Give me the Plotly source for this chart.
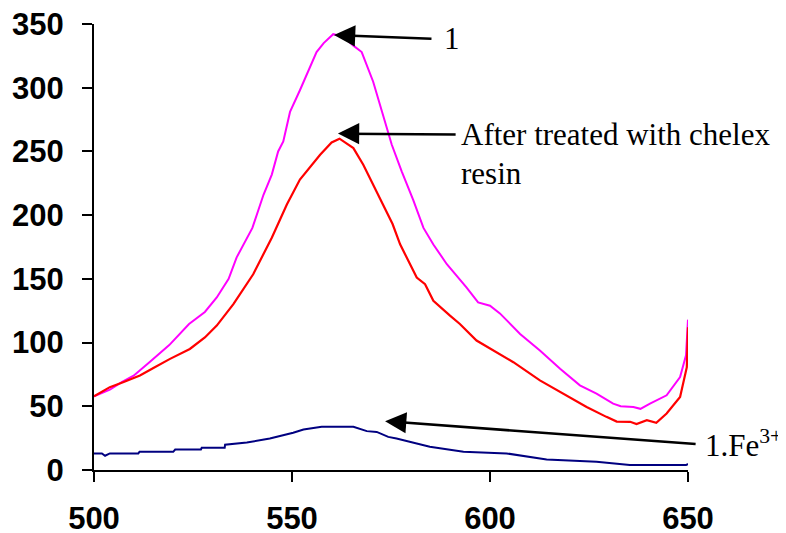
import plotly.graph_objects as go

# Wavelength (nm) and intensity for compound 1
x_1 = [500, 504, 507, 510, 514, 519, 524, 528, 531, 534, 536, 538, 540, 542.8, 544.9,
       546.5, 547.8, 549.5, 552, 556.2, 558, 560.4, 563, 565.5, 567.6, 570.5, 573, 575.2,
       577.7, 580.6, 583.2, 585.7, 589.1, 591.6, 594.1, 597, 600, 602.5, 607.6, 612.6,
       617.7, 622.7, 626.9, 631.1, 633, 636.2, 638, 640.4, 644.6, 648, 649.5, 650]
y_1 = [57.8, 63, 69, 74, 84.6, 98, 114.6, 124, 135.4, 150, 166.7, 178, 190, 216, 231.8,
       250, 257.8, 281, 298, 328, 335, 342, 340, 333, 328, 304.7, 278.7, 255.2,
       234.4, 212, 190, 177, 161.5, 152.3, 143.2, 131.5, 128.9, 122.9, 106.8, 93.75,
       79.4, 66.4, 59.9, 52.1, 50, 49.5, 48, 52.1, 58.6, 72.9, 90, 118]

# After treated with chelex resin
x_chelex = [500, 504, 507.5, 511.6, 515, 519.2, 524.2, 528, 531, 535.2, 540.2, 544.9, 548.7,
            552, 557.1, 560, 562, 565.5, 568, 570.5, 573, 575.4, 577.3, 579, 581.5, 583.6,
            585.7, 589.9, 592.4, 596.6, 601.7, 605.9, 612.6, 618.5, 624.4, 629.4, 632,
            635.4, 637, 639.6, 642, 644.6, 648, 649.7, 650]
y_chelex = [57.8, 65, 69, 74.2, 80, 87.2, 95, 104, 113.3, 130.2, 153.6, 182.3, 208.3,
            227.9, 247.4, 257, 260, 252.6, 239.6, 224, 208.3, 193, 177.1, 166.7, 151, 145.8,
            132.8, 121.1, 114.6, 101.6, 92.4, 84.6, 70.3, 59.9, 49.5, 41.7, 38,
            37.8, 36, 39.1, 37, 44.3, 57.3, 80.7, 112]

# 1.Fe3+
x_fe = [500, 502, 502.8, 504, 511.2, 511.5, 520, 520.5, 527, 527.2, 533, 533.1, 538.6,
        544.4, 550.3, 552.9, 557.5, 565.5, 568.9, 571.4, 574.3, 576.4, 584.8, 593.3,
        604.2, 614.3, 626.9, 635.3, 649.5, 650]
y_fe = [13, 13, 11.2, 13, 13, 14.3, 14.3, 16.1, 16.1, 17.4, 17.4, 19.8, 21.6,
        24.7, 29.2, 31.8, 33.9, 33.9, 30.5, 29.9, 26, 24.7, 18.2, 14.3,
        13, 8.3, 6.5, 3.9, 3.9, 4.7]

x_ticks = [500, 550, 600, 650]
y_ticks = [0, 50, 100, 150, 200, 250, 300, 350]

fig = go.Figure()
fig.add_trace(go.Scatter(x=x_1, y=y_1, mode="lines", line=dict(color="#FF00FF", width=2), name="1"))
fig.add_trace(go.Scatter(x=x_chelex, y=y_chelex, mode="lines", line=dict(color="#FF0000", width=2.2),
                         name="After treated with chelex resin"))
fig.add_trace(go.Scatter(x=x_fe, y=y_fe, mode="lines", line=dict(color="#000080", width=2), name="1.Fe3+"))

tickfont = dict(family="Arial, Liberation Sans, sans-serif", size=31, color="black", weight="bold")
fig.update_xaxes(range=[500, 650], tickvals=x_ticks, showgrid=False, zeroline=False,
                 showline=True, linecolor="black", linewidth=2, ticks="outside", ticklen=10,
                 tickwidth=2, tickcolor="black", tickfont=tickfont, ticklabelstandoff=10,
                 automargin=False, ticklabeloverflow="allow")
fig.update_yaxes(range=[0, 350], tickvals=y_ticks, showgrid=False, zeroline=False,
                 showline=True, linecolor="black", linewidth=2, ticks="outside", ticklen=10,
                 tickwidth=2, tickcolor="black", tickfont=tickfont, ticklabelstandoff=12,
                 automargin=False, ticklabeloverflow="allow")

serif = dict(family="Times New Roman, Liberation Serif, serif", size=31, color="black")
arrow = dict(text="", showarrow=True, arrowhead=2, arrowsize=1.7, arrowwidth=2.5,
             arrowcolor="black", xref="x", yref="y", axref="x", ayref="y")
fig.add_annotation(x=560.6, y=341.4, ax=585.6, ay=338.3, **arrow)
fig.add_annotation(x=561.6, y=264, ax=591.7, ay=263.3, **arrow)
fig.add_annotation(x=573.5, y=38.3, ax=652.3, ay=20.3, **arrow)

txt = dict(showarrow=False, xref="x", yref="y", xanchor="left", yanchor="middle", font=serif)
fig.add_annotation(x=588.0, y=339, text="1", **txt)
fig.add_annotation(x=592.2, y=263.3, text="After treated with chelex", **txt)
fig.add_annotation(x=592.2, y=232.8, text="resin", **txt)
fig.add_annotation(x=1.026, y=0.06, xref="paper", yref="paper", xanchor="left", yanchor="middle",
                   showarrow=False, font=serif, text="1.Fe<sup>3+</sup>")

# page has an 8px body margin, so the figure is sized to fill the rest of the window
fig.update_layout(width=778, height=525, margin=dict(l=86, r=98, t=16, b=63),
                  paper_bgcolor="white", plot_bgcolor="white", showlegend=False)

fig.write_html("out.html")
